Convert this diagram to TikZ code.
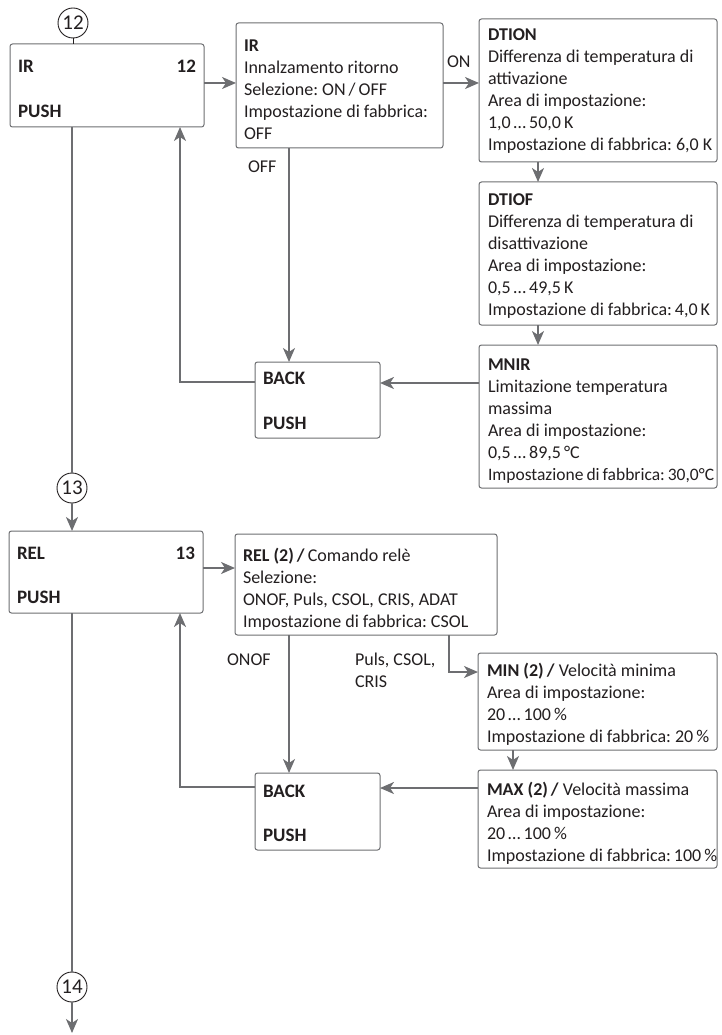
\documentclass[tikz,border=0pt]{standalone}
\usepackage{fontspec}
\setmainfont{Carlito}
\usetikzlibrary{arrows.meta}
\definecolor{txtc}{HTML}{231F20}
\definecolor{lgray}{HTML}{6D6E71}
\definecolor{bgray}{HTML}{6D6E71}
\newcommand\boxtext[4]{\foreach \mytext [count=\i from 0] in {#4}{\node[txt] (#1-\i) at ({#2},{#3+22*\i}) {\mytext};}}
\begin{document}
\frenchspacing
\begin{tikzpicture}[x=1pt,y=-1pt,
 every node/.style={inner sep=0pt, outer sep=0pt},
 box/.style={draw=bgray, line width=1pt, rounded corners=2.5pt, anchor=north west, fill=white},
 txt/.style={text=txtc, font=\fontsize{18}{22}\selectfont\frenchspacing, anchor=base west},
 txtb/.style={txt, font=\fontsize{19}{22}\selectfont\bfseries},
 txtr/.style={txtb, anchor=base east},
 circ/.style={circle, draw=txtc, line width=0.9pt, minimum size=30pt, font=\fontsize{21}{22}\selectfont, text=txtc, fill=white},
 con/.style={draw=lgray, line width=2pt},
 arr/.style={con, -{Stealth[length=14pt,width=12pt,inset=4pt]}},
]
\useasboundingbox (0,0) rectangle (722,1035);

% boxes
\node[box, minimum width=194pt, minimum height=83pt] (ir) at (10,44) {};
\node[box, minimum width=207pt, minimum height=125pt] (irD) at (236,23) {};
\node[box, minimum width=238pt, minimum height=143pt] (dtion) at (479,19) {};
\node[box, minimum width=238pt, minimum height=143pt] (dtiof) at (479,182) {};
\node[box, minimum width=238pt, minimum height=143pt] (mnir) at (479,345) {};
\node[box, minimum width=125pt, minimum height=76pt] (back1) at (255,362) {};
\node[box, minimum width=194pt, minimum height=82pt] (rel) at (9,531) {};
\node[box, minimum width=262pt, minimum height=101pt] (relD) at (235,534) {};
\node[box, minimum width=239pt, minimum height=97pt] (min) at (478,653) {};
\node[box, minimum width=239pt, minimum height=98pt] (max) at (478,770) {};
\node[box, minimum width=125pt, minimum height=77pt] (back2) at (255,773) {};

% circles
\node[circ] (c12) at (73,23) {12};
\node[circ] (c13) at (72,488) {13};
\node[circ] (c14) at (72,987) {14};

% texts
\node[txtb] (irT1) at (18,73) {IR};
\node[txtr] (irT2) at (196,73) {12};
\node[txtb] (irT3) at (18,118) {PUSH};
\node[txtb] (relT1) at (17,559) {REL};
\node[txtr] (relT2) at (195,559) {13};
\node[txtb] (relT3) at (17,603) {PUSH};
\node[txtb] (b1T1) at (263,384) {BACK};
\node[txtb] (b1T2) at (263,429) {PUSH};
\node[txtb] (b2T1) at (263,797) {BACK};
\node[txtb] (b2T2) at (263,841) {PUSH};

\boxtext{irDT}{244}{52}{{\textbf{IR}},{Innalzamento ritorno},{Selezione: ON\,/\,OFF},{Impostazione di fabbrica:},{OFF}}
\boxtext{dtionT}{488}{41}{{\textbf{DTION}},{Differenza di temperatura di},{attivazione},{Area di impostazione:},{1,0\,…\,50,0\,K},{Impostazione di fabbrica: 6,0 K}}
\boxtext{dtiofT}{488}{205}{{\textbf{DTIOF}},{Differenza di temperatura di},{disattivazione},{Area di impostazione:},{0,5\,…\,49,5\,K},{Impostazione di fabbrica:\,4,0\,K}}
\boxtext{mnirT}{488}{370}{{\textbf{MNIR}},{Limitazione temperatura},{massima},{Area di impostazione:},{0,5\,…\,89,5\,°C},{\fontsize{17.5}{22}\selectfont\spaceskip=3pt Impostazione di fabbrica:\,30,0°C}}
\boxtext{relDT}{243}{561}{{\textbf{REL (2)\,/}\,Comando relè},{Selezione:},{ONOF, Puls, CSOL, CRIS, ADAT},{Impostazione di fabbrica: CSOL}}
\boxtext{minT}{487}{676}{{\textbf{MIN (2)\,/} Velocità minima},{Area di impostazione:},{20\,…\,100\,\%},{Impostazione di fabbrica: 20\,\%}}
\boxtext{maxT}{487}{795}{{\textbf{MAX (2)\,/} Velocità massima},{Area di impostazione:},{20\,…\,100\,\%},{Impostazione di fabbrica:\,100\,\%}}

% labels
\node[txt] (lon) at (447,68) {ON};
\node[txt] (loff) at (248,173) {OFF};
\node[txt] (lonof) at (227,665) {ONOF};
\node[txt] (lpuls1) at (355,665) {Puls, CSOL,};
\node[txt] (lpuls2) at (355,687) {CRIS};

% connectors
\draw[draw=txtc, line width=0.9pt] (c12.south) -- (c12.south |- ir.north);
\draw[arr] (ir.east |- 0,83) -- (irD.west |- 0,83);
\draw[arr] (irD.east |- 0,83) -- (dtion.west |- 0,83);
\draw[arr] (dtion.south -| 538,0) -- (dtiof.north -| 538,0);
\draw[arr] (dtiof.south -| 538,0) -- (mnir.north -| 538,0);
\draw[arr] (mnir.west |- 0,383) -- (back1.east |- 0,383);
\draw[arr] (irD.south -| 289,0) -- (back1.north -| 289,0);
\draw[arr] (back1.west |- 0,382) -| (ir.south -| 180,0);
\draw[con] (ir.south -| c13) -- (c13.north);
\draw[arr] (c13.south) -- (rel.north -| c13);
\draw[arr] (rel.east |- 0,568) -- (relD.west |- 0,568);
\draw[arr] (relD.south -| 289,0) -- (back2.north -| 289,0);
\draw[arr] (relD.south -| 449,0) |- (min.west |- 0,672);
\draw[arr] (min.south -| 513,0) -- (max.north -| 513,0);
\draw[arr] (max.west |- 0,788) -- (back2.east |- 0,788);
\draw[arr] (back2.west |- 0,787) -| (rel.south -| 180,0);
\draw[con] (rel.south -| c14) -- (c14.north);
\coordinate (end14) at (72,1033);
\draw[arr] (c14.south) -- (end14);
\end{tikzpicture}
\end{document}
